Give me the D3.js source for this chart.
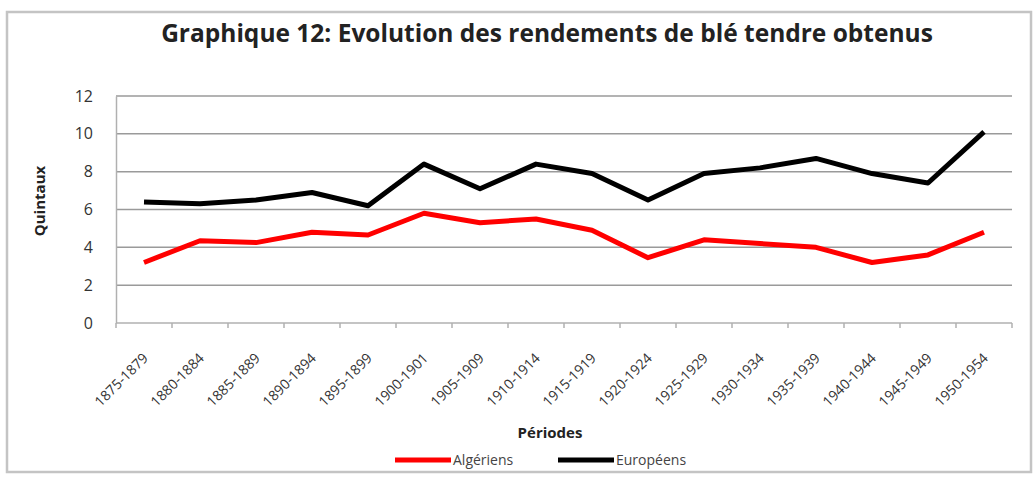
<!DOCTYPE html>
<html>
<head>
<meta charset="utf-8">
<script src="https://cdn.jsdelivr.net/npm/d3@7"></script>
<style>
  body { margin: 0; background: #fff; }
  text { font-family: "Open Sans", "DejaVu Sans", sans-serif; }
</style>
</head>
<body>
<svg id="chart"></svg>
<script>
// data
var periods = ["1875-1879", "1880-1884", "1885-1889", "1890-1894", "1895-1899",
  "1900-1901", "1905-1909", "1910-1914", "1915-1919", "1920-1924", "1925-1929",
  "1930-1934", "1935-1939", "1940-1944", "1945-1949", "1950-1954"];
var algeriens = [3.2, 4.35, 4.25, 4.8, 4.65, 5.8, 5.3, 5.5, 4.9, 3.45, 4.4, 4.2, 4.0, 3.2, 3.6, 4.8];
var europeens = [6.4, 6.3, 6.5, 6.9, 6.2, 8.4, 7.1, 8.4, 7.9, 6.5, 7.9, 8.2, 8.7, 7.9, 7.4, 10.1];
var yTicks = [0, 2, 4, 6, 8, 10, 12];

var outerWidth = 1035, outerHeight = 478;
var margin = { top: 96, left: 116, right: 23, bottom: 155 };
var width = outerWidth - margin.left - margin.right;
var height = outerHeight - margin.top - margin.bottom;

var svg = d3.select("#chart").attr("width", outerWidth).attr("height", outerHeight);

// outer frame
svg.append("rect")
  .attr("x", 7).attr("y", 12)
  .attr("width", 1024).attr("height", 460)
  .attr("fill", "#fff").attr("stroke", "#c4c4c4").attr("stroke-width", 2.5);

svg.append("text")
  .attr("x", 547).attr("y", 42)
  .attr("text-anchor", "middle")
  .style("font-size", "24.5px").style("font-weight", "bold")
  .attr("fill", "#222")
  .text("Graphique 12: Evolution des rendements de blé tendre obtenus");

var cg = svg.append("g").attr("transform", "translate(" + margin.left + "," + margin.top + ")");

var x = d3.scaleBand().domain(periods).range([0, width]);
var y = d3.scaleLinear().domain([0, 12]).range([height, 0]);

// grid
cg.selectAll(".grid").data(yTicks.filter((d) => d > 0)).enter()
  .append("line")
  .attr("x1", 0).attr("x2", width)
  .attr("y1", (d) => y(d)).attr("y2", (d) => y(d))
  .attr("stroke", "#9a9a9a").attr("stroke-width", 1.5);

// y axis
var yAxis = d3.axisLeft(y).tickValues(yTicks).tickSize(0).tickPadding(23);
var yg = cg.append("g").call(yAxis);
yg.select(".domain").attr("stroke", "#b0b0b0").attr("stroke-width", 1.5);
yg.selectAll("text").style("font-size", "16px").attr("fill", "#333");

// x axis
var xg = cg.append("g").attr("transform", "translate(0," + height + ")");
xg.append("line").attr("x1", 0).attr("x2", width).attr("stroke", "#b0b0b0").attr("stroke-width", 1.5);
var bounds = d3.range(periods.length + 1).map((i) => i * x.step());
xg.selectAll(".tk").data(bounds).enter().append("line")
  .attr("x1", (d) => d).attr("x2", (d) => d)
  .attr("y1", 0).attr("y2", 5)
  .attr("stroke", "#b0b0b0").attr("stroke-width", 1.5);
xg.selectAll(".lbl").data(periods).enter().append("text")
  .attr("text-anchor", "end")
  .attr("transform", (d) => "translate(" + (x(d) + x.bandwidth() / 2 + 5) + ",36) rotate(-45)")
  .style("font-size", "14px")
  .attr("fill", "#333")
  .text((d) => d);

// axis titles
svg.append("text")
  .attr("transform", "translate(45,201) rotate(-90)")
  .attr("text-anchor", "middle")
  .style("font-size", "15px").style("font-weight", "bold")
  .attr("fill", "#222")
  .text("Quintaux");
svg.append("text")
  .attr("x", 550).attr("y", 438)
  .attr("text-anchor", "middle")
  .style("font-size", "15px").style("font-weight", "bold")
  .attr("fill", "#222")
  .text("Périodes");

// lines
var series = [
  { name: "Algériens", values: algeriens, color: "#ff0000" },
  { name: "Européens", values: europeens, color: "#000000" },
];
var line = d3.line()
  .x((d, i) => x(periods[i]) + x.bandwidth() / 2)
  .y((d) => y(d));
cg.selectAll(".serie").data(series).enter().append("path")
  .attr("d", (d) => line(d.values))
  .attr("fill", "none")
  .attr("stroke", (d) => d.color)
  .attr("stroke-width", 5)
  .attr("stroke-linejoin", "round");

// legend
var legend = svg.append("g").attr("transform", "translate(395,460)");
var lx = [0, 163];
series.forEach((s, i) => {
  var g = legend.append("g").attr("transform", "translate(" + lx[i] + ",0)");
  g.append("line").attr("x1", 0).attr("x2", 56).attr("stroke", s.color).attr("stroke-width", 5);
  g.append("text").attr("x", 58).attr("y", 5)
    .style("font-size", "14px").attr("fill", "#444").text(s.name);
});
</script>
</body>
</html>
